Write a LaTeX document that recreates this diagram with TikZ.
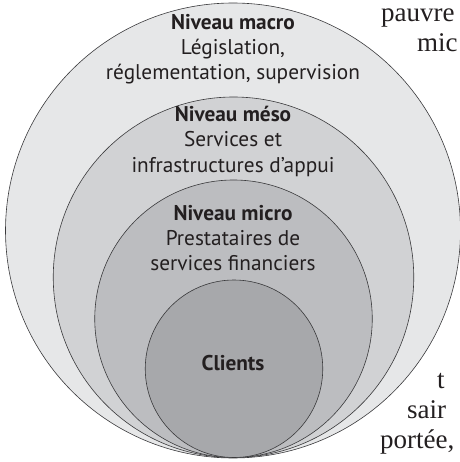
\documentclass[tikz,border=0pt]{standalone}
\usepackage{fontspec}
\setmainfont{Liberation Serif}
\newfontfamily\dinfont{PT Sans}
\definecolor{cmacro}{HTML}{E6E7E8}
\definecolor{cmeso}{HTML}{D1D2D4}
\definecolor{cmicro}{HTML}{BCBDC0}
\definecolor{cclient}{HTML}{A7A8AB}
\definecolor{ringline}{HTML}{3A3A3C}
\definecolor{txt}{HTML}{231F20}
\begin{document}
\begin{tikzpicture}[x=1pt,y=-1pt,
  ring/.style={circle, draw=ringline, line width=0.6pt, inner sep=0pt},
  lbl/.style={font=\dinfont\fontsize{21.3}{25}\selectfont, text=txt, anchor=base, inner sep=0pt},
  blbl/.style={lbl, font=\dinfont\bfseries\fontsize{21.3}{25}\selectfont},
  side/.style={font=\fontsize{27}{30}\selectfont, text=txt, anchor=base west, inner sep=0pt}]
\useasboundingbox (0,0) rectangle (459,462);
\node[ring, fill=cmacro, minimum size=455pt] (macro) at (233,230.5) {};
\node[ring, fill=cmeso, minimum size=360.5pt] (meso) at (233.5,277.25) {};
\node[ring, fill=cmicro, minimum size=277.5pt] (micro) at (233.5,318.75) {};
\node[ring, fill=cclient, minimum size=177.5pt] (clients) at (234,368.75) {};
% macro
\node[blbl] (t1) at (233,30) {Niveau macro};
\node[lbl] (t2) at (233,55) {Législation,};
\node[lbl] (t3) at (233,80) {réglementation, supervision};
% meso
\node[blbl] (t4) at (233,122) {Niveau méso};
\node[lbl] (t5) at (233,147) {Services et};
\node[lbl] (t6) at (233,172) {infrastructures d’appui};
% micro
\node[blbl] (t7) at (233,220) {Niveau micro};
\node[lbl] (t8) at (233,245) {Prestataires de};
\node[lbl] (t9) at (233,270) {services financiers};
% clients
\node[blbl] (t10) at (233,370) {Clients};
% side text
\node[side] (s1) at (381,22) {pauvre};
\node[side] (s2) at (417,52) {mic};
\node[side] (s3) at (437,388) {t};
\node[side] (s4) at (407,418) {sair};
\node[side] (s5) at (380,448) {portée,};
\end{tikzpicture}
\end{document}
